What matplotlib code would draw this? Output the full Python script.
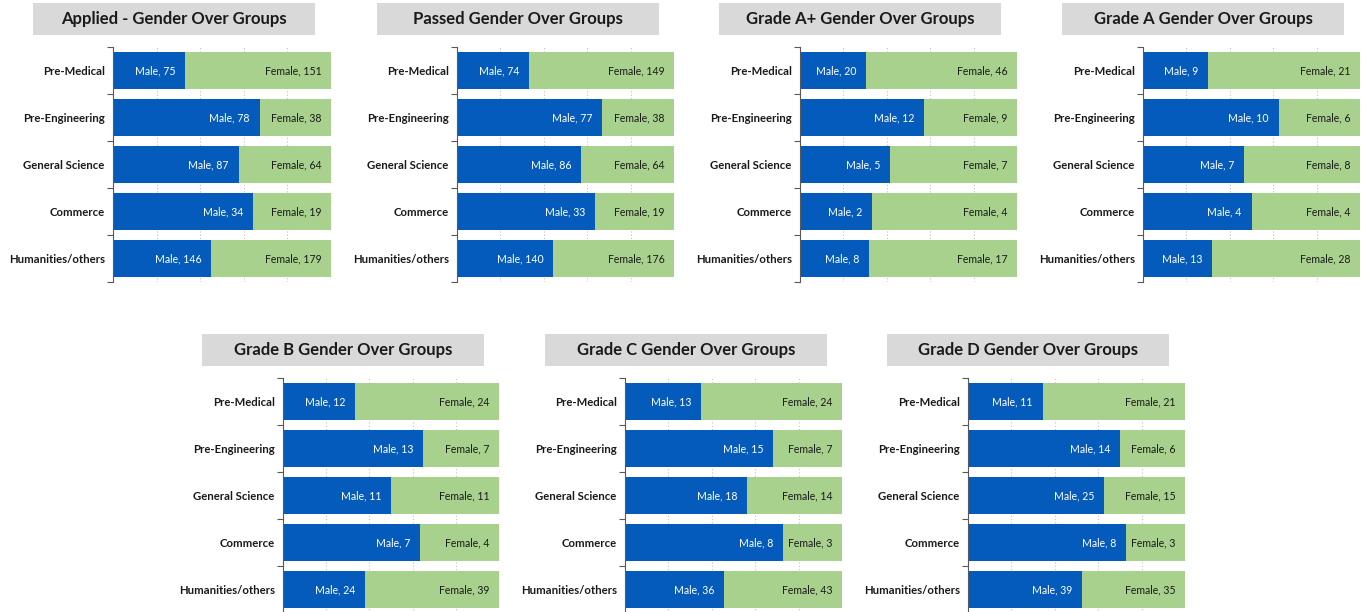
import matplotlib as mpl
import numpy as np

mpl.use('Agg')
from matplotlib import pyplot as plt
from matplotlib.patches import Rectangle

plt.rcParams['font.family'] = ['Lato', 'DejaVu Sans']

groups = ['Pre-Medical', 'Pre-Engineering', 'General Science', 'Commerce', 'Humanities/others']

titles = [
    'Applied - Gender Over Groups',
    'Passed Gender Over Groups',
    'Grade A+ Gender Over Groups',
    'Grade A Gender Over Groups',
    'Grade B Gender Over Groups',
    'Grade C Gender Over Groups',
    'Grade D Gender Over Groups',
]

# male / female counts per group, one list per chart
male_applied = [75, 78, 87, 34, 146]
female_applied = [151, 38, 64, 19, 179]
male_passed = [74, 77, 86, 33, 140]
female_passed = [149, 38, 64, 19, 176]
male_aplus = [20, 12, 5, 2, 8]
female_aplus = [46, 9, 7, 4, 17]
male_a = [9, 10, 7, 4, 13]
female_a = [21, 6, 8, 4, 28]
male_b = [12, 13, 11, 7, 24]
female_b = [24, 7, 11, 4, 39]
male_c = [13, 15, 18, 8, 36]
female_c = [24, 7, 14, 3, 43]
male_d = [11, 14, 25, 8, 39]
female_d = [21, 6, 15, 3, 35]

males = [male_applied, male_passed, male_aplus, male_a, male_b, male_c, male_d]
females = [female_applied, female_passed, female_aplus, female_a, female_b, female_c, female_d]

BLUE = '#055BBB'
GREEN = '#A9D18E'
W, H = 1362, 612

# axes positions in pixels: (left, top, width, height), title box (left, top)
axes_px = [
    (113, 47, 218, 235), (457, 47, 217, 235), (800, 47, 217, 235), (1143, 47, 217, 235),
    (283, 378, 216, 235), (625, 378, 217, 235), (968, 378, 217, 235),
]
title_px = [(33, 3), (377, 3), (719, 3), (1062, 3), (202, 334), (545, 334), (887, 334)]

fig = plt.figure(figsize=(W / 100, H / 100), dpi=100)

for i in range(7):
    x0, y0, w, h = axes_px[i]
    ax = fig.add_axes([x0 / W, 1 - (y0 + h) / H, w / W, h / H])
    m = np.array(males[i], dtype=float)
    f = np.array(females[i], dtype=float)
    tot = m + f
    mp = m / tot
    fp = f / tot
    y = np.arange(len(groups))
    ax.barh(y, mp, height=0.77, color=BLUE, zorder=2)
    ax.barh(y, fp, left=mp, height=0.77, color=GREEN, zorder=2)
    for k in range(len(groups)):
        ax.annotate('Male, %i' % m[k], (mp[k], y[k]), xytext=(-7, 0),
                    textcoords='offset points', ha='right', va='center',
                    color='white', fontsize=7.6, zorder=3)
        ax.annotate('Female, %i' % f[k], (1.0, y[k]), xytext=(-7, 0),
                    textcoords='offset points', ha='right', va='center',
                    color='#1A1A1A', fontsize=7.6, zorder=3)
    ax.set_xlim(0, 1)
    ax.set_ylim(len(groups) - 0.5, -0.5)
    ax.set_xticks(np.linspace(0, 1, 6))
    ax.tick_params(axis='x', length=0, labelbottom=False)
    ax.xaxis.grid(True, color='#BFBFBF', linestyle=(0, (1, 2)), linewidth=0.8)
    ax.set_axisbelow(True)
    ax.set_yticks(y)
    ax.set_yticklabels(groups, fontsize=8.2, fontweight='bold', color='#1A1A1A')
    ax.set_yticks(np.arange(len(groups) + 1) - 0.5, minor=True)
    ax.tick_params(axis='y', which='major', length=0, pad=6)
    ax.tick_params(axis='y', which='minor', length=4, color='#595959', width=0.8)
    for s in ['top', 'right', 'bottom']:
        ax.spines[s].set_visible(False)
    ax.spines['left'].set_color('#595959')
    ax.spines['left'].set_linewidth(0.8)

    tx, ty = title_px[i]
    fig.patches.append(Rectangle((tx / W, 1 - (ty + 32) / H), 282 / W, 32 / H,
                                 transform=fig.transFigure, facecolor='#D9D9D9',
                                 edgecolor='none', zorder=0))
    fig.text((tx + 141) / W, 1 - (ty + 16) / H, titles[i], ha='center', va='center',
             fontsize=12, fontweight='bold', color='#1A1A1A')

plt.savefig('out.png', dpi=100)
